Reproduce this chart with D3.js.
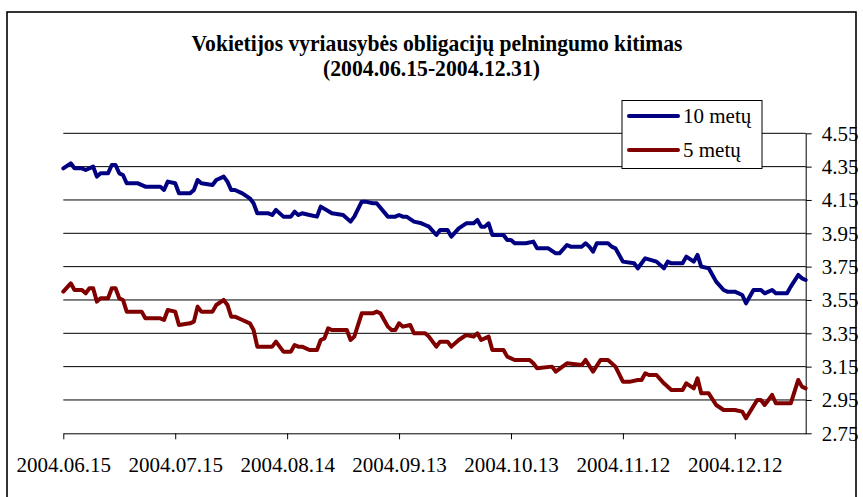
<!DOCTYPE html>
<meta charset="utf-8">
<script src="https://d3js.org/d3.v7.min.js"></script>
<style>
  body { margin: 0; background: #fff; }
</style>
<div id="chart"></div>
<script>

// data (yield, %)
var tenYearDates = ["2004-06-15","2004-06-17","2004-06-18","2004-06-20","2004-06-21","2004-06-23","2004-06-24","2004-06-25","2004-06-27","2004-06-28","2004-06-29","2004-06-30","2004-07-01","2004-07-02","2004-07-05","2004-07-07","2004-07-11","2004-07-12","2004-07-13","2004-07-15","2004-07-16","2004-07-19","2004-07-20","2004-07-21","2004-07-22","2004-07-25","2004-07-26","2004-07-28","2004-07-29","2004-07-30","2004-07-31","2004-08-02","2004-08-04","2004-08-05","2004-08-06","2004-08-09","2004-08-10","2004-08-11","2004-08-13","2004-08-15","2004-08-16","2004-08-17","2004-08-18","2004-08-20","2004-08-22","2004-08-23","2004-08-26","2004-08-29","2004-08-31","2004-09-01","2004-09-03","2004-09-04","2004-09-06","2004-09-07","2004-09-10","2004-09-12","2004-09-13","2004-09-14","2004-09-15","2004-09-17","2004-09-19","2004-09-20","2004-09-21","2004-09-23","2004-09-24","2004-09-26","2004-09-27","2004-09-29","2004-10-01","2004-10-03","2004-10-04","2004-10-05","2004-10-06","2004-10-07","2004-10-08","2004-10-11","2004-10-12","2004-10-13","2004-10-14","2004-10-17","2004-10-19","2004-10-20","2004-10-23","2004-10-25","2004-10-26","2004-10-28","2004-10-29","2004-11-01","2004-11-02","2004-11-03","2004-11-04","2004-11-05","2004-11-08","2004-11-09","2004-11-10","2004-11-12","2004-11-15","2004-11-16","2004-11-18","2004-11-21","2004-11-23","2004-11-24","2004-11-25","2004-11-28","2004-11-29","2004-12-01","2004-12-02","2004-12-03","2004-12-05","2004-12-07","2004-12-09","2004-12-10","2004-12-12","2004-12-14","2004-12-15","2004-12-17","2004-12-19","2004-12-20","2004-12-22","2004-12-23","2004-12-26","2004-12-27","2004-12-29","2004-12-30","2004-12-31"];
var tenYear = [4.34,4.37,4.34,4.34,4.33,4.35,4.29,4.31,4.31,4.36,4.36,4.31,4.30,4.25,4.25,4.23,4.23,4.21,4.26,4.25,4.19,4.19,4.21,4.27,4.25,4.24,4.27,4.29,4.26,4.21,4.21,4.19,4.16,4.13,4.07,4.07,4.06,4.09,4.05,4.05,4.08,4.06,4.07,4.06,4.05,4.11,4.07,4.06,4.02,4.05,4.14,4.14,4.13,4.13,4.05,4.05,4.06,4.05,4.05,4.02,4.01,4.00,3.99,3.94,3.97,3.97,3.93,3.98,4.01,4.01,4.03,3.99,3.99,4.01,3.94,3.94,3.91,3.91,3.89,3.89,3.90,3.86,3.86,3.83,3.83,3.88,3.87,3.87,3.89,3.87,3.84,3.89,3.89,3.87,3.86,3.78,3.77,3.74,3.80,3.78,3.74,3.78,3.77,3.77,3.81,3.78,3.82,3.75,3.74,3.66,3.61,3.60,3.60,3.58,3.53,3.61,3.61,3.59,3.61,3.59,3.59,3.63,3.70,3.68,3.67];

var fiveYearDates = ["2004-06-15","2004-06-17","2004-06-18","2004-06-20","2004-06-21","2004-06-22","2004-06-23","2004-06-24","2004-06-25","2004-06-27","2004-06-28","2004-06-29","2004-06-30","2004-07-01","2004-07-02","2004-07-06","2004-07-07","2004-07-11","2004-07-12","2004-07-13","2004-07-15","2004-07-16","2004-07-19","2004-07-20","2004-07-21","2004-07-22","2004-07-25","2004-07-26","2004-07-28","2004-07-29","2004-07-30","2004-07-31","2004-08-02","2004-08-04","2004-08-05","2004-08-06","2004-08-09","2004-08-10","2004-08-11","2004-08-13","2004-08-15","2004-08-16","2004-08-17","2004-08-18","2004-08-20","2004-08-22","2004-08-23","2004-08-24","2004-08-25","2004-08-26","2004-08-30","2004-08-31","2004-09-01","2004-09-03","2004-09-06","2004-09-07","2004-09-08","2004-09-10","2004-09-11","2004-09-12","2004-09-13","2004-09-14","2004-09-16","2004-09-17","2004-09-19","2004-09-20","2004-09-21","2004-09-23","2004-09-24","2004-09-26","2004-09-27","2004-09-29","2004-10-01","2004-10-03","2004-10-04","2004-10-05","2004-10-07","2004-10-08","2004-10-11","2004-10-12","2004-10-14","2004-10-18","2004-10-19","2004-10-20","2004-10-24","2004-10-25","2004-10-28","2004-11-01","2004-11-02","2004-11-04","2004-11-06","2004-11-08","2004-11-10","2004-11-12","2004-11-14","2004-11-16","2004-11-17","2004-11-18","2004-11-19","2004-11-21","2004-11-23","2004-11-25","2004-11-28","2004-11-29","2004-12-01","2004-12-02","2004-12-03","2004-12-05","2004-12-07","2004-12-09","2004-12-12","2004-12-14","2004-12-15","2004-12-18","2004-12-19","2004-12-20","2004-12-22","2004-12-23","2004-12-27","2004-12-28","2004-12-29","2004-12-30","2004-12-31"];
var fiveYear = [3.60,3.65,3.61,3.61,3.59,3.62,3.62,3.54,3.56,3.56,3.62,3.62,3.56,3.55,3.48,3.48,3.44,3.44,3.43,3.49,3.48,3.40,3.41,3.42,3.51,3.48,3.48,3.52,3.55,3.52,3.45,3.45,3.43,3.41,3.37,3.27,3.27,3.27,3.30,3.24,3.24,3.28,3.27,3.27,3.25,3.25,3.31,3.32,3.38,3.37,3.37,3.31,3.33,3.47,3.47,3.48,3.47,3.39,3.37,3.37,3.41,3.39,3.40,3.35,3.35,3.35,3.33,3.27,3.30,3.30,3.27,3.31,3.34,3.33,3.35,3.31,3.33,3.25,3.25,3.21,3.19,3.19,3.17,3.14,3.15,3.12,3.17,3.16,3.19,3.12,3.19,3.19,3.15,3.06,3.06,3.07,3.07,3.11,3.10,3.10,3.05,3.01,3.01,3.05,3.02,3.08,2.99,2.99,2.92,2.89,2.89,2.88,2.84,2.95,2.95,2.92,2.98,2.93,2.93,3.00,3.07,3.03,3.02];

var xTickLabels = ["2004.06.15","2004.07.15","2004.08.14","2004.09.13","2004.10.13","2004.11.12","2004.12.12"];
var yTicks = [2.75, 2.95, 3.15, 3.35, 3.55, 3.75, 3.95, 4.15, 4.35, 4.55];
var seriesNames = ["10 metų", "5 metų"];
var seriesColors = ["#000080", "#800000"];

var width = 863, height = 497;
var plotLeft = 63.3, plotRight = 805.7, plotTop = 133.3, plotBottom = 433.3;
var serif = "'Liberation Serif', 'Times New Roman', Times, serif";

var parse = d3.timeParse("%Y-%m-%d");
var parseTick = d3.timeParse("%Y.%m.%d");

var svg = d3.select("#chart")
    .append("svg")
    .attr("width", width)
    .attr("height", height);

svg.append("rect")
    .attr("width", width)
    .attr("height", height)
    .attr("fill", "#fff");

// outer frame
svg.append("rect")
    .attr("x", 7)
    .attr("y", 12)
    .attr("width", 849)
    .attr("height", 500)
    .attr("fill", "none")
    .attr("stroke", "#000")
    .attr("stroke-width", 1.6);

// title
svg.append("text")
    .attr("x", 437)
    .attr("y", 51)
    .attr("text-anchor", "middle")
    .attr("textLength", 491)
    .attr("lengthAdjust", "spacingAndGlyphs")
    .style("font-family", serif)
    .style("font-size", "23px")
    .style("font-weight", "bold")
    .text("Vokietijos vyriausybės obligacijų pelningumo kitimas");
svg.append("text")
    .attr("x", 431.5)
    .attr("y", 76)
    .attr("text-anchor", "middle")
    .attr("textLength", 217)
    .attr("lengthAdjust", "spacingAndGlyphs")
    .style("font-family", serif)
    .style("font-size", "23px")
    .style("font-weight", "bold")
    .text("(2004.06.15-2004.12.31)");

var x = d3.scaleTime()
    .domain([parse("2004-06-15"), parse("2004-12-31")])
    .range([plotLeft, plotRight]);

var y = d3.scaleLinear()
    .domain([2.75, 4.55])
    .range([plotBottom, plotTop]);

// gridlines
svg.append("g")
    .selectAll("line")
    .data(yTicks.slice(1))
    .enter().append("line")
    .attr("x1", plotLeft)
    .attr("x2", plotRight)
    .attr("y1", function (d) { return y(d); })
    .attr("y2", function (d) { return y(d); })
    .attr("stroke", "#000")
    .attr("stroke-width", 1);

// x axis
var xAxis = svg.append("g")
    .attr("transform", "translate(0," + plotBottom + ")")
    .call(d3.axisBottom(x)
        .tickValues(xTickLabels.map(function (d) { return parseTick(d); }))
        .tickFormat(d3.timeFormat("%Y.%m.%d"))
        .tickSizeInner(6)
        .tickSizeOuter(0)
        .tickPadding(18));
xAxis.attr("font-family", null);
xAxis.selectAll("text")
    .style("font-family", serif)
    .style("font-size", "21px")
    .attr("fill", "#000");

// y axis on the right
var yAxis = svg.append("g")
    .attr("transform", "translate(" + plotRight + ",0)")
    .call(d3.axisRight(y)
        .tickValues(yTicks)
        .tickFormat(d3.format(".2f"))
        .tickSizeInner(6)
        .tickSizeOuter(0)
        .tickPadding(10));
yAxis.attr("font-family", null);
yAxis.selectAll("text")
    .style("font-family", serif)
    .style("font-size", "21px")
    .attr("fill", "#000");

svg.selectAll(".domain, .tick line").attr("stroke", "#000");

// lines
var line = d3.line()
    .x(function (d) { return x(d.date); })
    .y(function (d) { return y(d.value); });

var series = [
    tenYearDates.map(function (d, i) { return { date: parse(d), value: tenYear[i] }; }),
    fiveYearDates.map(function (d, i) { return { date: parse(d), value: fiveYear[i] }; })
];

svg.selectAll(".series")
    .data(series)
    .enter().append("path")
    .attr("class", "series")
    .attr("d", line)
    .attr("fill", "none")
    .attr("stroke", function (d, i) { return seriesColors[i]; })
    .attr("stroke-width", 4)
    .attr("stroke-linejoin", "round")
    .attr("stroke-linecap", "round");

// legend
var legend = svg.append("g");
legend.append("rect")
    .attr("x", 622)
    .attr("y", 100.5)
    .attr("width", 140)
    .attr("height", 68)
    .attr("fill", "#fff")
    .attr("stroke", "#000")
    .attr("stroke-width", 1);

var items = legend.selectAll(".item")
    .data(seriesNames)
    .enter().append("g")
    .attr("transform", function (d, i) { return "translate(0," + (116 + i * 34) + ")"; });
items.append("line")
    .attr("x1", 629)
    .attr("x2", 678)
    .attr("stroke", function (d, i) { return seriesColors[i]; })
    .attr("stroke-width", 4)
    .attr("stroke-linecap", "round");
items.append("text")
    .attr("x", 683)
    .attr("y", 7)
    .style("font-family", serif)
    .style("font-size", "21px")
    .text(function (d) { return d; });

</script>
